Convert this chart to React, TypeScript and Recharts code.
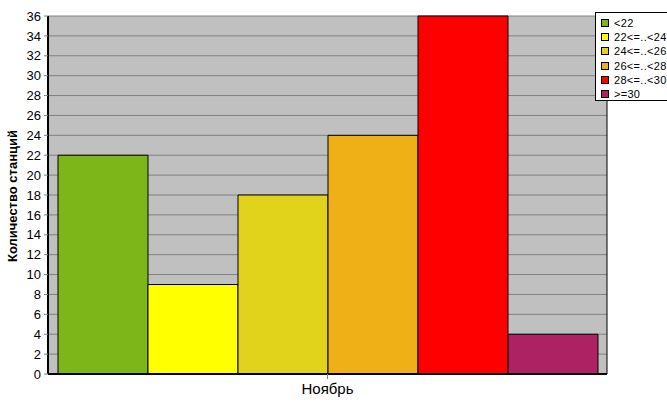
import { BarChart, Bar, XAxis, YAxis, CartesianGrid } from 'recharts';

const months = ['Ноябрь'];
const seriesNames = ['<22', '22<=..<24', '24<=..<26', '26<=..<28', '28<=..<30', '>=30'];
const seriesValues = [22, 9, 18, 24, 36, 4];
const seriesColors = ['#7DB618', '#FFFF00', '#E1D21C', '#EFAF16', '#FF0000', '#AD2262'];
const yTicks = [0, 2, 4, 6, 8, 10, 12, 14, 16, 18, 20, 22, 24, 26, 28, 30, 32, 34, 36];
const yTitle = 'Количество станций';

const data = months.map((m) => {
  const row: Record<string, string | number> = { month: m };
  seriesNames.forEach((name, i) => {
    row[`s${i}`] = seriesValues[i];
  });
  return row;
});

const font = 'Arial, "Liberation Sans", sans-serif';

// legend drawn as a boxed list at the top right, like the original
const LegendBox = () => (
  <div
    style={{
      position: 'absolute',
      left: 595,
      top: 12,
      width: 74,
      height: 89,
      background: '#fff',
      border: '1px solid #000',
      boxSizing: 'border-box',
      fontFamily: font,
      fontSize: 11,
      paddingTop: 3,
    }}
  >
    {seriesNames.map((name, i) => (
      <div key={name} style={{ display: 'flex', alignItems: 'center', height: 14.2 }}>
        <span
          style={{
            display: 'inline-block',
            width: 6,
            height: 6,
            marginLeft: 5,
            marginRight: 5,
            background: seriesColors[i],
            border: '1px solid #000',
          }}
        />
        <span style={{ letterSpacing: 0.3 }}>{name}</span>
      </div>
    ))}
  </div>
);

// rotated axis title, centred on the plot height
const YTitle = () => {
  const cx = 12;
  const cy = 196;
  return (
    <text
      x={cx}
      y={cy}
      transform={`rotate(-90 ${cx} ${cy})`}
      textAnchor="middle"
      dominantBaseline="central"
      fontFamily={font}
      fontSize={13}
      fontWeight="bold"
      fill="#000"
    >
      {yTitle}
    </text>
  );
};

export default function App() {
  return (
    <div style={{ position: 'absolute', left: 0, top: 0, width: 667, height: 415, background: '#fff', overflow: 'hidden' }}>
      <BarChart
        width={667}
        height={415}
        data={data}
        margin={{ top: 16, right: 0, bottom: 0, left: 0 }}
        barGap={0}
        barCategoryGap={10}
      >
        <CartesianGrid vertical={false} fill="#C0C0C0" stroke="#808080" strokeOpacity={1} />
        <XAxis
          dataKey="month"
          height={41}
          axisLine={{ stroke: '#000', strokeWidth: 2 }}
          tickLine={{ stroke: '#808080' }}
          tickSize={5}
          tick={{ fill: '#000', fontSize: 15, fontFamily: font }}
          tickMargin={4}
        />
        <XAxis xAxisId="top" orientation="top" dataKey="month" height={0} tick={false} tickLine={false} axisLine={{ stroke: '#000' }} />
        <YAxis
          domain={[0, 36]}
          ticks={yTicks}
          interval={0}
          width={48}
          axisLine={{ stroke: '#000', strokeWidth: 2 }}
          tickLine={{ stroke: '#808080' }}
          tickSize={4}
          tickMargin={3}
          tick={{ fill: '#000', fontSize: 13, fontFamily: font }}
          label={{ content: YTitle }}
        />
        <YAxis yAxisId="right" orientation="right" domain={[0, 36]} width={60} tick={false} tickLine={false} axisLine={{ stroke: '#000' }} />
        {seriesNames.map((name, i) => (
          <Bar
            key={name}
            dataKey={`s${i}`}
            name={name}
            fill={seriesColors[i]}
            stroke="#000"
            strokeWidth={1}
            isAnimationActive={false}
          />
        ))}
      </BarChart>
      <LegendBox />
    </div>
  );
}
